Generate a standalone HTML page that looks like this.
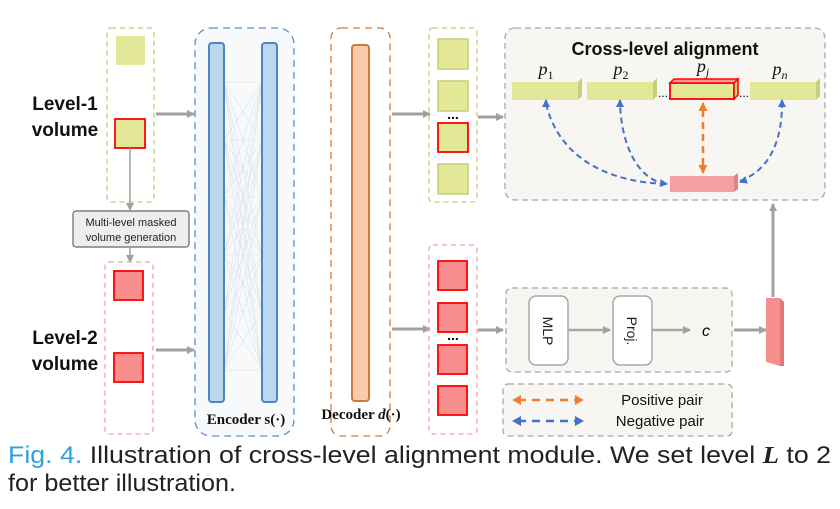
<!DOCTYPE html>
<html><head><meta charset="utf-8"><style>
html,body{margin:0;padding:0;background:#fff;}
svg{display:block;}
</style></head><body>
<svg width="840" height="509" viewBox="0 0 840 509" xmlns="http://www.w3.org/2000/svg" font-family="Liberation Sans, sans-serif">
<defs>
<marker id="ag" markerWidth="8" markerHeight="8" refX="7" refY="4" orient="auto" markerUnits="userSpaceOnUse"><path d="M0,0 L8,4 L0,8 z" fill="#a0a0a0"/></marker>
<marker id="ab" markerWidth="8" markerHeight="8" refX="7" refY="4" orient="auto" markerUnits="userSpaceOnUse"><path d="M0,0 L8,4 L0,8 z" fill="#4472c4"/></marker>
<marker id="ao" markerWidth="9" markerHeight="9" refX="8" refY="4.5" orient="auto" markerUnits="userSpaceOnUse"><path d="M0,0 L9,4.5 L0,9 z" fill="#ed7d31"/></marker>
</defs>

<g font-weight="bold" font-size="19" text-anchor="middle" fill="#111">
<text x="65" y="110">Level-1</text><text x="65" y="136">volume</text>
<text x="65" y="344">Level-2</text><text x="65" y="370">volume</text>
</g>

<rect x="107" y="28" width="47" height="174" rx="4" fill="none" stroke="#c5cc7a" stroke-width="1.3" stroke-dasharray="5,4"/>
<rect x="116" y="36" width="29" height="29" fill="#e3e896"/>
<rect x="115" y="119" width="30" height="29" fill="#e3e896" stroke="#ff0000" stroke-width="1.8"/>
<line x1="130" y1="148" x2="130" y2="210" stroke="#a0a0a0" stroke-width="1.5" marker-end="url(#ag)"/>
<rect x="73" y="211" width="116" height="36" rx="3" fill="#eeeeee" stroke="#666" stroke-width="1.2"/>
<text x="131" y="226" font-size="11" text-anchor="middle" fill="#222">Multi-level masked</text>
<text x="131" y="241" font-size="11" text-anchor="middle" fill="#222">volume generation</text>
<line x1="130" y1="247" x2="130" y2="262" stroke="#a0a0a0" stroke-width="1.5" marker-end="url(#ag)"/>

<rect x="105" y="262" width="48" height="172" rx="4" fill="none" stroke="#f4a0a0" stroke-width="1.3" stroke-dasharray="5,4"/>
<rect x="114" y="271" width="29" height="29" fill="#f78f8f" stroke="#ff0000" stroke-width="1.8"/>
<rect x="114" y="353" width="29" height="29" fill="#f78f8f" stroke="#ff0000" stroke-width="1.8"/>

<line x1="156" y1="114" x2="194" y2="114" stroke="#a0a0a0" stroke-width="3" marker-end="url(#ag)"/>
<line x1="156" y1="350" x2="194" y2="350" stroke="#a0a0a0" stroke-width="3" marker-end="url(#ag)"/>

<rect x="195" y="28" width="99" height="408" rx="16" fill="#f8f9fb" stroke="#5b8fd0" stroke-width="1.3" stroke-dasharray="7,5"/>
<g stroke="#d8e2ea" stroke-width="0.6">
<line x1="224" y1="82" x2="262" y2="82"/><line x1="224" y1="82" x2="262" y2="140"/><line x1="224" y1="82" x2="262" y2="197"/><line x1="224" y1="82" x2="262" y2="255"/><line x1="224" y1="82" x2="262" y2="312"/><line x1="224" y1="82" x2="262" y2="370"/>
<line x1="224" y1="140" x2="262" y2="82"/><line x1="224" y1="140" x2="262" y2="140"/><line x1="224" y1="140" x2="262" y2="197"/><line x1="224" y1="140" x2="262" y2="255"/><line x1="224" y1="140" x2="262" y2="312"/><line x1="224" y1="140" x2="262" y2="370"/>
<line x1="224" y1="197" x2="262" y2="82"/><line x1="224" y1="197" x2="262" y2="140"/><line x1="224" y1="197" x2="262" y2="197"/><line x1="224" y1="197" x2="262" y2="255"/><line x1="224" y1="197" x2="262" y2="312"/><line x1="224" y1="197" x2="262" y2="370"/>
<line x1="224" y1="255" x2="262" y2="82"/><line x1="224" y1="255" x2="262" y2="140"/><line x1="224" y1="255" x2="262" y2="197"/><line x1="224" y1="255" x2="262" y2="255"/><line x1="224" y1="255" x2="262" y2="312"/><line x1="224" y1="255" x2="262" y2="370"/>
<line x1="224" y1="312" x2="262" y2="82"/><line x1="224" y1="312" x2="262" y2="140"/><line x1="224" y1="312" x2="262" y2="197"/><line x1="224" y1="312" x2="262" y2="255"/><line x1="224" y1="312" x2="262" y2="312"/><line x1="224" y1="312" x2="262" y2="370"/>
<line x1="224" y1="370" x2="262" y2="82"/><line x1="224" y1="370" x2="262" y2="140"/><line x1="224" y1="370" x2="262" y2="197"/><line x1="224" y1="370" x2="262" y2="255"/><line x1="224" y1="370" x2="262" y2="312"/><line x1="224" y1="370" x2="262" y2="370"/>
</g>
<rect x="209" y="43" width="15" height="359" rx="3" fill="#bdd7ee" stroke="#4a86c5" stroke-width="2"/>
<rect x="262" y="43" width="15" height="359" rx="3" fill="#bdd7ee" stroke="#4a86c5" stroke-width="2"/>
<text x="246" y="424" font-family="Liberation Serif, serif" font-weight="bold" font-size="15" text-anchor="middle" fill="#111">Encoder s(·)</text>

<rect x="331" y="28" width="59" height="408" rx="10" fill="none" stroke="#d07a3a" stroke-width="1.3" stroke-dasharray="7,5"/>
<rect x="352" y="45" width="17" height="356" rx="3" fill="#f8cbad" stroke="#d07a3a" stroke-width="2"/>
<text x="361" y="419" font-family="Liberation Serif, serif" font-weight="bold" font-size="15" text-anchor="middle" fill="#111">Decoder <tspan font-style="italic">d</tspan>(·)</text>

<line x1="392" y1="114" x2="430" y2="114" stroke="#a0a0a0" stroke-width="3" marker-end="url(#ag)"/>
<line x1="392" y1="329" x2="430" y2="329" stroke="#a0a0a0" stroke-width="3" marker-end="url(#ag)"/>

<rect x="429" y="28" width="48" height="174" rx="4" fill="none" stroke="#c5cc7a" stroke-width="1.3" stroke-dasharray="5,4"/>
<rect x="438" y="39" width="30" height="30" fill="#e3e896" stroke="#c5cc7a" stroke-width="1.5"/>
<rect x="438" y="81" width="30" height="30" fill="#e3e896" stroke="#c5cc7a" stroke-width="1.5"/>
<text x="453" y="119" font-size="14" font-weight="bold" text-anchor="middle">...</text>
<rect x="438" y="123" width="30" height="29" fill="#e3e896" stroke="#ff0000" stroke-width="1.8"/>
<rect x="438" y="164" width="30" height="30" fill="#e3e896" stroke="#c5cc7a" stroke-width="1.5"/>
<line x1="478" y1="117" x2="503" y2="117" stroke="#a0a0a0" stroke-width="3" marker-end="url(#ag)"/>

<rect x="505" y="28" width="320" height="172" rx="10" fill="#f7f6f2" stroke="#a8a8a8" stroke-width="1.3" stroke-dasharray="6,4"/>
<text x="665" y="55" font-size="18" font-weight="bold" text-anchor="middle" fill="#111">Cross-level alignment</text>
<g font-family="Liberation Serif, serif" font-style="italic" font-size="18" fill="#111" text-anchor="middle">
<text x="546" y="75">p<tspan font-style="normal" font-size="12" dy="4">1</tspan></text>
<text x="621" y="75">p<tspan font-style="normal" font-size="12" dy="4">2</tspan></text>
<text x="703" y="72">p<tspan font-size="12" dy="4">j</tspan></text>
<text x="780" y="75">p<tspan font-size="12" dy="4">n</tspan></text>
</g>
<g>
<polygon points="512,82 578,82 582,78 582,96 578,100 512,100" fill="#e3e896"/><polygon points="578,82 582,78 582,96 578,100" fill="#c9ce78"/>
<polygon points="587,82 653,82 657,78 657,96 653,100 587,100" fill="#e3e896"/><polygon points="653,82 657,78 657,96 653,100" fill="#c9ce78"/>
<polygon points="750,82 816,82 820,78 820,96 816,100 750,100" fill="#e3e896"/><polygon points="816,82 820,78 820,96 816,100" fill="#c9ce78"/>
<rect x="670" y="83" width="64" height="16" fill="#e3e896" stroke="#ff0000" stroke-width="1.8"/>
<polygon points="670,83 674,79 738,79 734,83" fill="#f29a9a" stroke="#ff0000" stroke-width="1.5"/>
<polygon points="734,83 738,79 738,95 734,99" fill="#c9ce78" stroke="#ff0000" stroke-width="1.5"/>
</g>
<text x="663" y="97" font-size="12" text-anchor="middle">...</text>
<text x="744" y="97" font-size="12" text-anchor="middle">...</text>
<polygon points="670,176 734,176 738,173 738,189 734,192 670,192" fill="#f4a0a0"/>
<polygon points="734,176 738,173 738,189 734,192" fill="#e08585"/>
<g fill="none" stroke="#4472c4" stroke-width="2" stroke-dasharray="6,4">
<path d="M666,184 C610,182 560,160 546,104"/>
<path d="M666,184 C640,180 622,150 620,104"/>
<path d="M740,181 C770,170 782,140 782,104"/>
</g>
<g stroke="#4472c4" stroke-width="2">
<path d="M546,104 L546,100" marker-end="url(#ab)"/>
<path d="M620,104 L620,100" marker-end="url(#ab)"/>
<path d="M782,104 L782,100" marker-end="url(#ab)"/>
<path d="M660,183 L667,184" marker-end="url(#ab)"/>
<path d="M746,180 L740,182" marker-end="url(#ab)"/>
</g>
<line x1="703" y1="110" x2="703" y2="166" stroke="#ed7d31" stroke-width="2.5" stroke-dasharray="7,5"/>
<path d="M703,110 L703,103" stroke="#ed7d31" stroke-width="2" marker-end="url(#ao)"/>
<path d="M703,166 L703,173" stroke="#ed7d31" stroke-width="2" marker-end="url(#ao)"/>

<rect x="429" y="245" width="48" height="189" rx="4" fill="none" stroke="#f4a0a0" stroke-width="1.3" stroke-dasharray="5,4"/>
<rect x="438" y="261" width="29" height="29" fill="#f78f8f" stroke="#ff0000" stroke-width="1.8"/>
<rect x="438" y="303" width="29" height="29" fill="#f78f8f" stroke="#ff0000" stroke-width="1.8"/>
<text x="453" y="340" font-size="14" font-weight="bold" text-anchor="middle">...</text>
<rect x="438" y="345" width="29" height="29" fill="#f78f8f" stroke="#ff0000" stroke-width="1.8"/>
<rect x="438" y="386" width="29" height="29" fill="#f78f8f" stroke="#ff0000" stroke-width="1.8"/>
<line x1="478" y1="330" x2="503" y2="330" stroke="#a0a0a0" stroke-width="3" marker-end="url(#ag)"/>

<rect x="506" y="288" width="226" height="84" rx="6" fill="#f7f6f2" stroke="#a8a8a8" stroke-width="1.3" stroke-dasharray="6,4"/>
<rect x="529" y="296" width="39" height="69" rx="7" fill="#fff" stroke="#a8a8a8" stroke-width="1.5"/>
<rect x="613" y="296" width="39" height="69" rx="7" fill="#fff" stroke="#a8a8a8" stroke-width="1.5"/>
<text transform="translate(543,331) rotate(90)" font-size="14" text-anchor="middle" fill="#222">MLP</text>
<text transform="translate(627,331) rotate(90)" font-size="14" text-anchor="middle" fill="#222">Proj.</text>
<text x="706" y="336" font-size="16" font-style="italic" text-anchor="middle">c</text>
<line x1="568" y1="330" x2="610" y2="330" stroke="#a8a8a8" stroke-width="2.5" marker-end="url(#ag)"/>
<line x1="652" y1="330" x2="690" y2="330" stroke="#a8a8a8" stroke-width="2.5" marker-end="url(#ag)"/>
<line x1="734" y1="330" x2="766" y2="330" stroke="#a0a0a0" stroke-width="3" marker-end="url(#ag)"/>
<polygon points="766,298 780,298 784,302 784,366 780,366 766,362" fill="#f78f8f"/>
<polygon points="780,298 784,302 784,366 780,366" fill="#e07878"/>
<line x1="773" y1="297" x2="773" y2="204" stroke="#a0a0a0" stroke-width="3" marker-end="url(#ag)"/>

<rect x="503" y="384" width="229" height="52" rx="5" fill="#f7f6f2" stroke="#a8a8a8" stroke-width="1.3" stroke-dasharray="6,4"/>
<line x1="518" y1="400" x2="578" y2="400" stroke="#ed7d31" stroke-width="2.5" stroke-dasharray="8,6"/>
<path d="M512,400 L521,395 L521,405 z M584,400 L575,395 L575,405 z" fill="#ed7d31"/>
<line x1="518" y1="421" x2="578" y2="421" stroke="#4472c4" stroke-width="2.5" stroke-dasharray="8,6"/>
<path d="M512,421 L521,416 L521,426 z M584,421 L575,416 L575,426 z" fill="#4472c4"/>
<text x="662" y="405" font-size="15" text-anchor="middle" fill="#111">Positive pair</text>
<text x="660" y="426" font-size="15" text-anchor="middle" fill="#111">Negative pair</text>

<text x="8" y="463" font-size="24" fill="#222" textLength="823" lengthAdjust="spacingAndGlyphs"><tspan fill="#2e9fe0">Fig. 4.</tspan>   Illustration of cross-level alignment module. We set level <tspan font-family="Liberation Serif, serif" font-style="italic" font-weight="bold">L</tspan> to 2</text>
<text x="8" y="491" font-size="24" fill="#222" textLength="228" lengthAdjust="spacingAndGlyphs">for better illustration.</text>
</svg>
</body></html>
